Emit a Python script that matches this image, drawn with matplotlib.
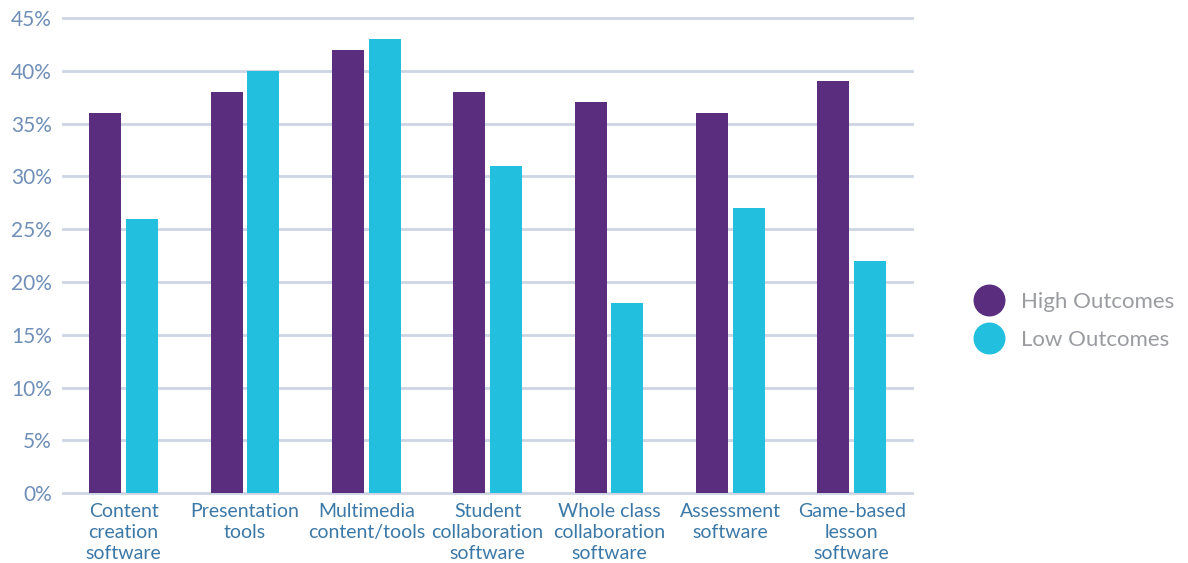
import matplotlib
matplotlib.use("Agg")
import matplotlib.pyplot as plt
from matplotlib.lines import Line2D
import numpy as np

categories = [
    "Content\ncreation\nsoftware",
    "Presentation\ntools",
    "Multimedia\ncontent/tools",
    "Student\ncollaboration\nsoftware",
    "Whole class\ncollaboration\nsoftware",
    "Assessment\nsoftware",
    "Game-based\nlesson\nsoftware",
]
high_outcomes = [36, 38, 42, 38, 37, 36, 39]
low_outcomes = [26, 40, 43, 31, 18, 27, 22]
y_ticks = [0, 5, 10, 15, 20, 25, 30, 35, 40, 45]
series_names = ["High Outcomes", "Low Outcomes"]

purple = "#5a2d7f"
cyan = "#22bfdf"
grid_color = "#cdd5e3"
ytick_color = "#6f8fb8"
xtick_color = "#3b78a6"
legend_text = "#9a9ca0"

plt.rcParams["font.family"] = ["Lato", "DejaVu Sans"]

fig = plt.figure(figsize=(11.88, 5.63), dpi=100)
ax = fig.add_axes([0.053, 0.124, 0.715, 0.844])

x = np.arange(len(categories))
w = 0.264
off = 0.152
ax.bar(x - off, high_outcomes, width=w, color=purple, zorder=3)
ax.bar(x + off, low_outcomes, width=w, color=cyan, zorder=3)

ax.set_xlim(-0.5, len(categories) - 0.5)
ax.set_ylim(0, 45)
ax.set_yticks(y_ticks)
ax.set_yticklabels([f"{t}%" for t in y_ticks])
for t in y_ticks:
    ax.axhline(t, color=grid_color, lw=2.0, zorder=1, clip_on=False)

ax.set_xticks(x)
ax.set_xticklabels(categories, linespacing=1.28)
ax.tick_params(axis="y", length=0, pad=8, labelsize=15, labelcolor=ytick_color)
ax.tick_params(axis="x", length=0, pad=7, labelsize=14, labelcolor=xtick_color)
for s in ax.spines.values():
    s.set_visible(False)

handles = [
    Line2D([], [], marker="o", ls="none", markersize=22, color=purple),
    Line2D([], [], marker="o", ls="none", markersize=22, color=cyan),
]
leg = fig.legend(handles, series_names, loc="center left",
                 bbox_to_anchor=(0.797, 0.43), frameon=False,
                 fontsize=16, labelspacing=0.8, handletextpad=0.45,
                 labelcolor=legend_text)

fig.savefig("out.png", dpi=100)
